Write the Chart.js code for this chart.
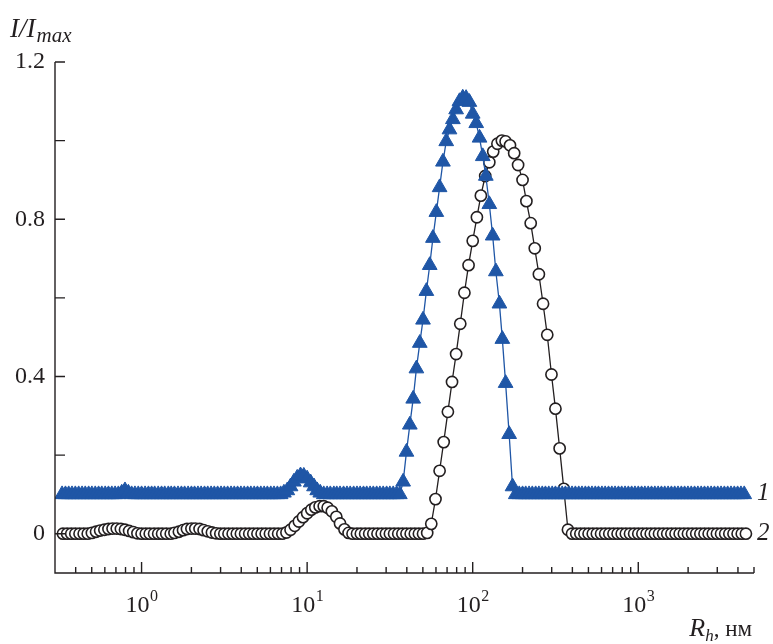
<!DOCTYPE html>
<html>
<head>
<meta charset="utf-8">
<title>I/Imax vs Rh</title>
<style>
  html, body { margin: 0; padding: 0; background: #fff; }
  #chart { display: block; }
</style>
</head>
<body>
<canvas id="chart" width="773" height="644"></canvas>
<script src="https://cdn.jsdelivr.net/npm/chart.js@4/dist/chart.umd.min.js"></script>
<script>
// curve 1 (triangles), Rh in nm and I/Imax (shifted up by 0.1)
const sizes1 = [
  0.331, 0.347, 0.363, 0.380, 0.398, 0.417, 0.437, 0.457, 0.479, 0.501, 0.525, 0.550, 0.575, 0.603, 0.631, 0.661, 0.692, 0.724, 0.759, 0.794, 0.832, 0.871, 0.912, 0.955,
  1.00, 1.05, 1.10, 1.15, 1.20, 1.26, 1.32, 1.38, 1.45, 1.51, 1.58, 1.66, 1.74, 1.82, 1.91, 2.00, 2.09, 2.19, 2.29, 2.40, 2.51, 2.63, 2.75, 2.88, 3.02, 3.16, 3.31, 3.47, 3.63, 3.80, 3.98, 4.17, 4.37, 4.57, 4.79, 5.01, 5.25, 5.50, 5.75, 6.03, 6.31, 6.61, 6.92, 7.24, 7.59, 7.94, 8.32, 8.71, 9.12, 9.55,
  10.0, 10.5, 11.0, 11.5, 12.0, 12.6, 13.2, 13.8, 14.5, 15.1, 15.8, 16.6, 17.4, 18.2, 19.1, 20.0, 20.9, 21.9, 22.9, 24.0, 25.1, 26.3, 27.5, 28.8, 30.2, 31.6, 33.1, 34.7, 36.3, 38.0, 39.8, 41.7, 43.7, 45.7, 47.9, 50.1, 52.5, 55.0, 57.5, 60.3, 63.1, 66.1, 69.2, 72.4, 75.9, 79.4, 83.2, 87.1, 91.2, 95.5,
  100, 105, 110, 115, 120, 126, 132, 138, 145, 151, 158, 166, 174, 182, 191, 200, 209, 219, 229, 240, 251, 263, 275, 288, 302, 316, 331, 347, 363, 380, 398, 417, 437, 457, 479, 501, 525, 550, 575, 603, 631, 661, 692, 724, 759, 794, 832, 871, 912, 955,
  1000, 1047, 1096, 1148, 1202, 1259, 1318, 1380, 1445, 1514, 1585, 1660, 1738, 1820, 1905, 1995, 2089, 2188, 2291, 2399, 2512, 2630, 2754, 2884, 3020, 3162, 3311, 3467, 3631, 3802, 3981, 4169, 4365
];
const intensity1 = [
  0.1, 0.1, 0.1, 0.1, 0.1, 0.1, 0.1, 0.1, 0.1, 0.1, 0.1, 0.1, 0.1, 0.1, 0.1, 0.1, 0.1, 0.1, 0.104, 0.11, 0.104, 0.1, 0.1, 0.1,
  0.1, 0.1, 0.1, 0.1, 0.1, 0.1, 0.1, 0.1, 0.1, 0.1, 0.1, 0.1, 0.1, 0.1, 0.1, 0.1, 0.1, 0.1, 0.1, 0.1, 0.1, 0.1, 0.1, 0.1, 0.1, 0.1, 0.1, 0.1, 0.1, 0.1, 0.1, 0.1, 0.1, 0.1, 0.1, 0.1, 0.1, 0.1, 0.1, 0.1, 0.1, 0.1, 0.1, 0.104, 0.11, 0.12, 0.132, 0.142, 0.148, 0.147,
  0.14, 0.13, 0.12, 0.11, 0.104, 0.1, 0.1, 0.1, 0.1, 0.1, 0.1, 0.1, 0.1, 0.1, 0.1, 0.1, 0.1, 0.1, 0.1, 0.1, 0.1, 0.1, 0.1, 0.1, 0.1, 0.1, 0.1, 0.1, 0.1, 0.132, 0.208, 0.277, 0.343, 0.42, 0.485, 0.544, 0.617, 0.683, 0.752, 0.818, 0.881, 0.946, 0.998, 1.028, 1.054, 1.079, 1.1, 1.109, 1.108, 1.098,
  1.068, 1.044, 1.007, 0.96, 0.91, 0.838, 0.758, 0.667, 0.585, 0.495, 0.383, 0.253, 0.12, 0.1, 0.1, 0.1, 0.1, 0.1, 0.1, 0.1, 0.1, 0.1, 0.1, 0.1, 0.1, 0.1, 0.1, 0.1, 0.1, 0.1, 0.1, 0.1, 0.1, 0.1, 0.1, 0.1, 0.1, 0.1, 0.1, 0.1, 0.1, 0.1, 0.1, 0.1, 0.1, 0.1, 0.1, 0.1, 0.1, 0.1,
  0.1, 0.1, 0.1, 0.1, 0.1, 0.1, 0.1, 0.1, 0.1, 0.1, 0.1, 0.1, 0.1, 0.1, 0.1, 0.1, 0.1, 0.1, 0.1, 0.1, 0.1, 0.1, 0.1, 0.1, 0.1, 0.1, 0.1, 0.1, 0.1, 0.1, 0.1, 0.1, 0.1
];

// curve 2 (open circles)
const sizes2 = [
  0.335, 0.355, 0.376, 0.398, 0.422, 0.447, 0.473, 0.501, 0.531, 0.562, 0.596, 0.631, 0.668, 0.708, 0.750, 0.794, 0.841, 0.891, 0.944,
  1.00, 1.06, 1.12, 1.19, 1.26, 1.33, 1.41, 1.50, 1.58, 1.68, 1.78, 1.88, 2.00, 2.11, 2.24, 2.37, 2.51, 2.66, 2.82, 2.99, 3.16, 3.35, 3.55, 3.76, 3.98, 4.22, 4.47, 4.73, 5.01, 5.31, 5.62, 5.96, 6.31, 6.68, 7.08, 7.50, 7.94, 8.41, 8.91, 9.44,
  10.0, 10.6, 11.2, 11.9, 12.6, 13.3, 14.1, 15.0, 15.8, 16.8, 17.8, 18.8, 20.0, 21.1, 22.4, 23.7, 25.1, 26.6, 28.2, 29.9, 31.6, 33.5, 35.5, 37.6, 39.8, 42.2, 44.7, 47.3, 50.1, 53.1, 56.2, 59.6, 63.1, 66.8, 70.8, 75.0, 79.4, 84.1, 89.1, 94.4,
  100, 106, 112, 119, 126, 133, 141, 150, 158, 168, 178, 188, 200, 211, 224, 237, 251, 266, 282, 299, 316, 335, 355, 376, 398, 422, 447, 473, 501, 531, 562, 596, 631, 668, 708, 750, 794, 841, 891, 944,
  1000, 1059, 1122, 1189, 1259, 1334, 1413, 1496, 1585, 1679, 1778, 1884, 1995, 2113, 2239, 2371, 2512, 2661, 2818, 2985, 3162, 3350, 3548, 3758, 3981, 4217, 4467
];
const intensity2 = [
  0, 0, 0, 0, 0, 0, 0, 0.002, 0.005, 0.008, 0.01, 0.012, 0.013, 0.013, 0.012, 0.01, 0.007, 0.004, 0.001,
  0, 0, 0, 0, 0, 0, 0, 0, 0.002, 0.005, 0.009, 0.012, 0.013, 0.013, 0.012, 0.009, 0.006, 0.003, 0.001, 0, 0, 0, 0, 0, 0, 0, 0, 0, 0, 0, 0, 0, 0, 0, 0, 0.003, 0.01, 0.02, 0.031, 0.042,
  0.052, 0.061, 0.067, 0.07, 0.07, 0.066, 0.057, 0.043, 0.026, 0.011, 0.002, 0, 0, 0, 0, 0, 0, 0, 0, 0, 0, 0, 0, 0, 0, 0, 0, 0, 0, 0.002, 0.025, 0.088, 0.16, 0.233, 0.31, 0.386, 0.457, 0.534, 0.613, 0.683,
  0.745, 0.805, 0.86, 0.91, 0.945, 0.972, 0.992, 1.0, 0.998, 0.988, 0.968, 0.938, 0.9, 0.846, 0.79, 0.726, 0.66, 0.585, 0.506, 0.405, 0.318, 0.217, 0.114, 0.01, 0, 0, 0, 0, 0, 0, 0, 0, 0, 0, 0, 0, 0, 0, 0, 0,
  0, 0, 0, 0, 0, 0, 0, 0, 0, 0, 0, 0, 0, 0, 0, 0, 0, 0, 0, 0, 0, 0, 0, 0, 0, 0, 0
];

// axis ticks
const xMajorTicks = [1, 10, 100, 1000];
const xMinorTicks = [0.4, 0.5, 0.6, 0.7, 0.8, 0.9, 2, 3, 4, 5, 6, 7, 8, 9, 20, 30, 40, 50, 60, 70, 80, 90,
  200, 300, 400, 500, 600, 700, 800, 900, 2000, 3000, 4000, 5000];
const yTicks = [0, 0.2, 0.4, 0.6, 0.8, 1.0, 1.2];
const yLabeled = [0, 0.4, 0.8, 1.2];

const blue = '#1f56a6';
const ink = '#231f20';
const serif = '"Liberation Serif", "Times New Roman", serif';

// draws inward ticks, axis lines and the text around the plot
const axisDecor = {
    id: 'axisDecor',
    afterDraw(chart) {
        const { ctx, chartArea: a, scales: { x, y } } = chart;
        ctx.save();
        ctx.strokeStyle = ink;
        ctx.lineWidth = 1.4;
        ctx.beginPath();
        ctx.moveTo(a.left, a.top);
        ctx.lineTo(a.left, a.bottom);
        ctx.lineTo(a.right, a.bottom);
        yTicks.forEach(v => {
            const py = y.getPixelForValue(v);
            ctx.moveTo(a.left, py);
            ctx.lineTo(a.left + 10, py);
        });
        xMajorTicks.forEach(v => {
            const px = x.getPixelForValue(v);
            ctx.moveTo(px, a.bottom);
            ctx.lineTo(px, a.bottom - 11);
        });
        xMinorTicks.forEach(v => {
            const px = x.getPixelForValue(v);
            ctx.moveTo(px, a.bottom);
            ctx.lineTo(px, a.bottom - 6);
        });
        ctx.stroke();

        ctx.fillStyle = ink;
        ctx.textBaseline = 'alphabetic';
        ctx.textAlign = 'left';

        // x tick labels 10^n
        xMajorTicks.forEach((v, i) => {
            const px = x.getPixelForValue(v);
            ctx.font = '24px ' + serif;
            const wBase = ctx.measureText('10').width;
            ctx.font = '16px ' + serif;
            const wExp = ctx.measureText(String(i)).width;
            const left = px - (wBase + wExp) / 2;
            ctx.font = '24px ' + serif;
            ctx.fillText('10', left, 612);
            ctx.font = '16px ' + serif;
            ctx.fillText(String(i), left + wBase + 0.5, 601);
        });

        // y axis title
        ctx.font = 'italic 27px ' + serif;
        ctx.fillText('I/I', 10, 37);
        const wI = ctx.measureText('I/I').width;
        ctx.font = 'italic 21px ' + serif;
        ctx.fillText('max', 10 + wI + 1, 42);

        // x axis title
        ctx.textAlign = 'right';
        ctx.font = '23px ' + serif;
        const tail = ', нм';
        const wTail = ctx.measureText(tail).width;
        ctx.fillText(tail, 752, 636);
        ctx.font = 'italic 17px ' + serif;
        const wh = ctx.measureText('h').width;
        ctx.fillText('h', 752 - wTail, 641);
        ctx.font = 'italic 26px ' + serif;
        ctx.fillText('R', 752 - wTail - wh, 636);

        // curve numbers
        ctx.textAlign = 'left';
        ctx.textBaseline = 'middle';
        ctx.font = 'italic 25px ' + serif;
        ctx.fillText('1', 757, y.getPixelForValue(0.1) - 1);
        ctx.fillText('2', 757, y.getPixelForValue(0));
        ctx.restore();
    }
};

new Chart(document.getElementById('chart'), {
    type: 'line',
    data: {
        datasets: [
            {
                label: '1',
                data: sizes1.map((r, i) => ({ x: r, y: intensity1[i] })),
                borderColor: blue,
                borderWidth: 1.3,
                pointStyle: 'triangle',
                pointRadius: 8.5,
                pointBackgroundColor: blue,
                pointBorderColor: blue,
                pointBorderWidth: 1,
                tension: 0
            },
            {
                label: '2',
                data: sizes2.map((r, i) => ({ x: r, y: intensity2[i] })),
                borderColor: ink,
                borderWidth: 1.3,
                pointStyle: 'circle',
                pointRadius: 5.6,
                pointBackgroundColor: '#fff',
                pointBorderColor: ink,
                pointBorderWidth: 1.6,
                tension: 0
            }
        ]
    },
    options: {
        responsive: false,
        animation: false,
        devicePixelRatio: 1,
        layout: { padding: { top: 62, right: 19, left: 0, bottom: 0 } },
        plugins: {
            legend: { display: false },
            tooltip: { enabled: false }
        },
        scales: {
            x: {
                type: 'logarithmic',
                min: 0.3,
                max: 5000,
                grid: { display: false, drawTicks: false },
                border: { display: false },
                ticks: { display: false },
                afterFit: (scale) => { scale.height = 71; }
            },
            y: {
                type: 'linear',
                min: -0.1,
                max: 1.2,
                grid: { display: false, drawTicks: false },
                border: { display: false },
                afterBuildTicks: (scale) => { scale.ticks = yTicks.map(v => ({ value: v })); },
                ticks: {
                    autoSkip: false,
                    padding: 10,
                    color: ink,
                    font: { family: serif, size: 24 },
                    callback: (value) => yLabeled.includes(value) ? String(value) : ''
                },
                afterFit: (scale) => { scale.width = 55; }
            }
        }
    },
    plugins: [axisDecor]
});
</script>
</body>
</html>
